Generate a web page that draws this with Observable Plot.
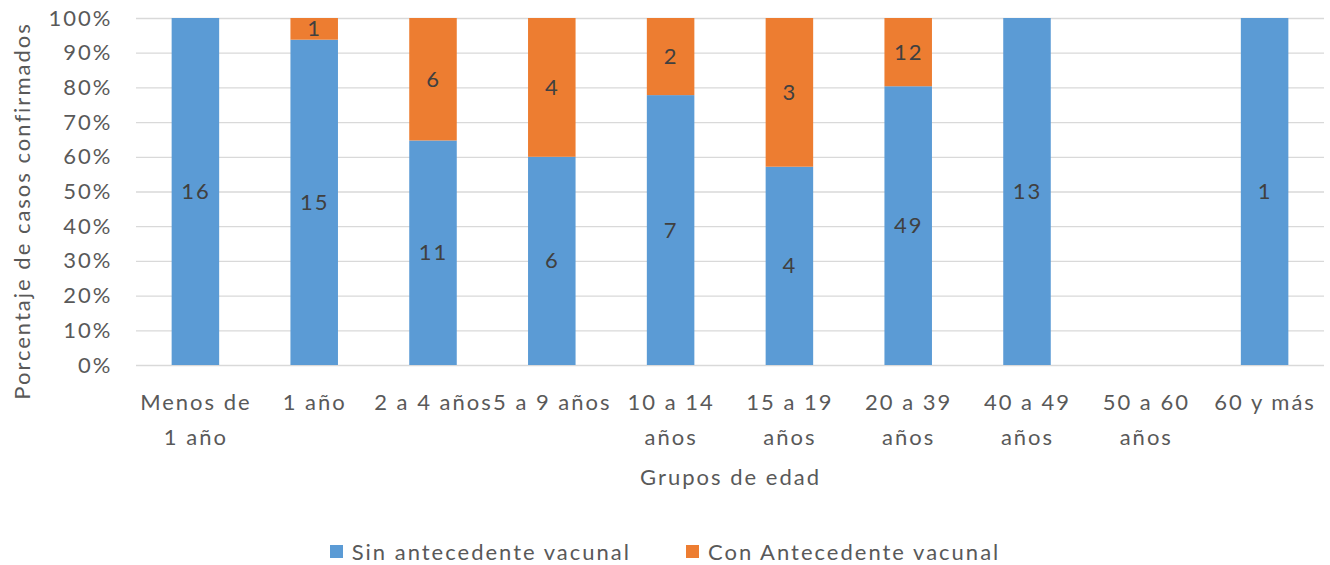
<!DOCTYPE html>
<html><head><meta charset="utf-8">
<script src="https://cdn.jsdelivr.net/npm/d3@7"></script>
<script src="https://cdn.jsdelivr.net/npm/@observablehq/plot@0.6"></script>
<style>
body{margin:0;background:#fff;font-family:Lato,"Open Sans",sans-serif;}
#chart{width:1330px;}
#chart svg text{letter-spacing:2px;}
.legend{display:flex;justify-content:center;gap:55px;font-size:22px;letter-spacing:2px;color:#595959;height:30px;align-items:center;margin-top:6px;}
.legend span.sw{display:inline-block;width:13px;height:13px;margin-right:9px;}
.legend div{display:flex;align-items:center;}
</style>
</head><body>
<div id="chart"></div>
<script>
const grupos = ["Menos de\n1 año","1 año","2 a 4 años","5 a 9 años","10 a 14\naños","15 a 19\naños","20 a 39\naños","40 a 49\naños","50 a 60\naños","60 y más"];
const sinAntecedente = [16,15,11,6,7,4,49,13,0,1];
const conAntecedente = [0,1,6,4,2,3,12,0,0,0];
const series = ["Sin antecedente vacunal","Con Antecedente vacunal"];
const colores = ["#5B9BD5","#ED7D31"];
const yTicks = [0,0.1,0.2,0.3,0.4,0.5,0.6,0.7,0.8,0.9,1];

const rows = [];
grupos.forEach((g,i)=>{
  if (sinAntecedente[i] > 0) rows.push({grupo:g, serie:series[0], n:sinAntecedente[i]});
  if (conAntecedente[i] > 0) rows.push({grupo:g, serie:series[1], n:conAntecedente[i]});
});

const chart = Plot.plot({
  width:1330, height:530,
  marginLeft:136, marginRight:6, marginTop:18, marginBottom:165,
  style:{fontFamily:"Lato, 'Open Sans', sans-serif", fontSize:"22px", color:"#595959", background:"#fff"},
  x:{domain:grupos, paddingInner:0.6, paddingOuter:0.3, round:false},
  y:{domain:[0,1]},
  color:{domain:series, range:colores},
  marks:[
    Plot.gridY(yTicks,{stroke:"#d9d9d9", strokeOpacity:1, strokeWidth:1.3}),
    Plot.barY(rows, Plot.stackY({offset:"normalize", x:"grupo", y:"n", fill:"serie"})),
    Plot.text(rows, Plot.stackY({offset:"normalize", x:"grupo", y:"n", text:"n", fill:"#404040", fontSize:22})),
    Plot.axisY({ticks:yTicks, tickFormat:d3.format(".0%"), tickSize:0, tickPadding:24, label:null, fill:"#595959"}),
    Plot.axisX({tickSize:0, tickPadding:20, lineHeight:1.58, label:"Grupos de edad", labelAnchor:"center", labelOffset:119, labelArrow:"none", fill:"#595959"}),
    Plot.text(["Porcentaje de casos confirmados"],{frameAnchor:"left", textAnchor:"middle", rotate:-90, dx:-114, dy:19, fill:"#595959", fontSize:22})
  ]
});
document.getElementById("chart").appendChild(chart);
const lg = document.createElement("div");
lg.className = "legend";
series.forEach((s,i)=>{
  const d = document.createElement("div");
  d.innerHTML = `<span class="sw" style="background:${colores[i]}"></span>${s}`;
  lg.appendChild(d);
});
document.getElementById("chart").appendChild(lg);
</script>
</body></html>
